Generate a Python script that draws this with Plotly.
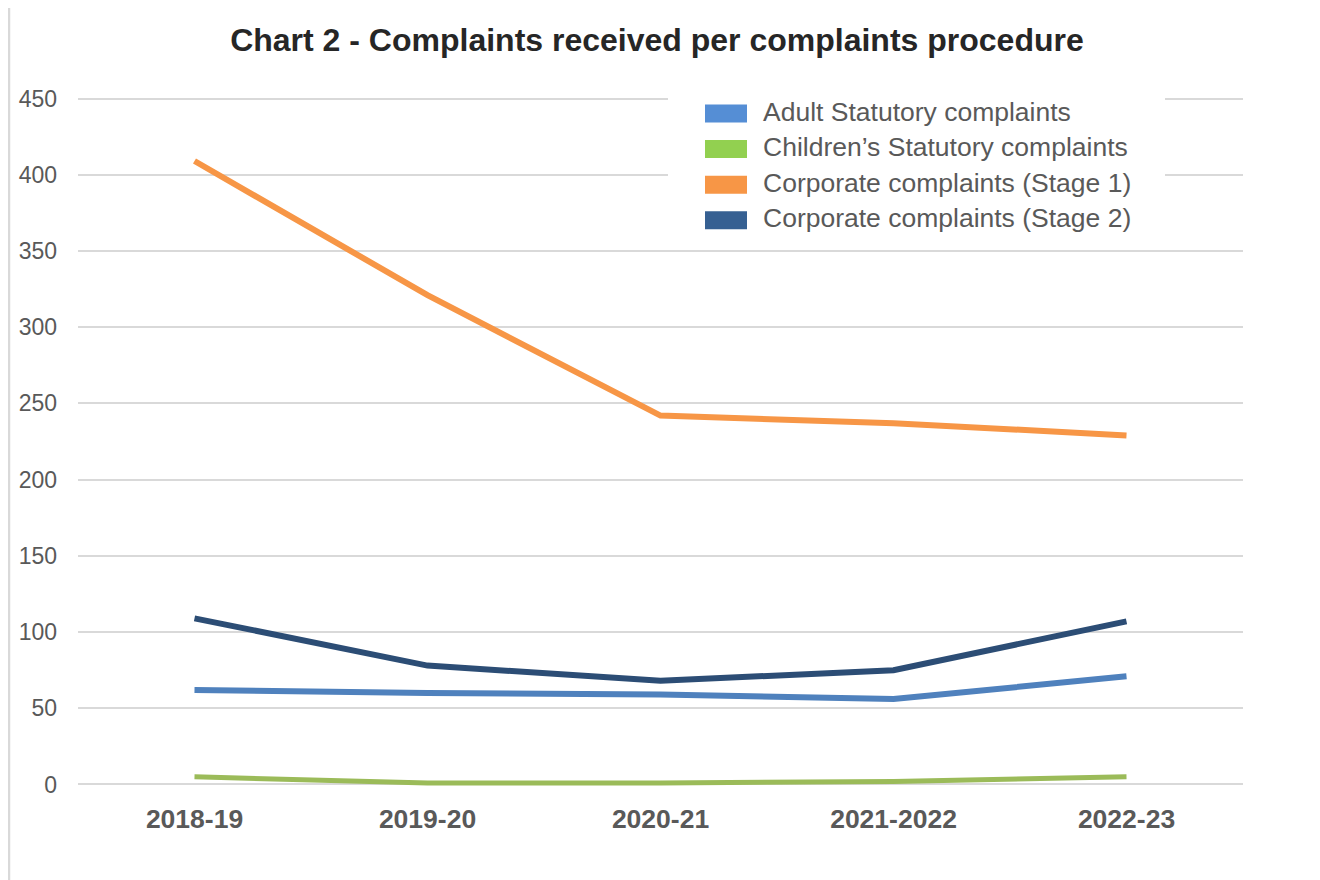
import plotly.graph_objects as go

years = ["2018-19", "2019-20", "2020-21", "2021-2022", "2022-23"]
series_names = [
    "Adult Statutory complaints",
    "Children\u2019s Statutory complaints",
    "Corporate complaints (Stage 1)",
    "Corporate complaints (Stage 2)",
]
adult = [62, 60, 59, 56, 71]
children = [5, 1, 1, 2, 5]
corp1 = [409, 321, 242, 237, 229]
corp2 = [109, 78, 68, 75, 107]
y_ticks = [0, 50, 100, 150, 200, 250, 300, 350, 400, 450]

line_colors = ["#4F81BD", "#9BBB59", "#F79646", "#2C4D75"]
swatch_colors = ["#558ED5", "#92D050", "#F79646", "#366092"]
widths = [6, 5, 6, 6]

OFF = 8  # page body margin
PAD = 1.0  # axis padding (data units) so the edge gridlines are drawn
W, H = 1320 - OFF, 880 - OFF
pw = 1165
ph = 685 * (450 + 2 * PAD) / 450
ml = 78 - OFF
mt = 99 - OFF - 685 * PAD / 450
mr, mb = W - ml - pw, H - mt - ph

fig = go.Figure()
for name, vals, col, w in zip(series_names, [adult, children, corp1, corp2], line_colors, widths):
    fig.add_trace(go.Scatter(x=years, y=vals, mode="lines", name=name,
                             line=dict(color=col, width=w), showlegend=False))

def px_x(px):
    return (px - OFF - ml) / pw

def px_y(py):
    return 1 - (py - OFF - mt) / ph

shapes = []
annotations = []
# legend background
shapes.append(dict(type="rect", xref="paper", yref="paper",
                   x0=px_x(668), x1=px_x(1165), y0=px_y(246), y1=px_y(93),
                   fillcolor="white", line=dict(width=0), layer="above"))
row_y = [113, 148.5, 184, 219.5]
for name, col, ry in zip(series_names, swatch_colors, row_y):
    shapes.append(dict(type="rect", xref="paper", yref="paper",
                       x0=px_x(705), x1=px_x(747), y0=px_y(ry + 10), y1=px_y(ry - 8),
                       fillcolor=col, line=dict(width=0), layer="above"))
    annotations.append(dict(text=name, xref="paper", yref="paper",
                            x=px_x(761), y=px_y(ry - 1), xanchor="left", yanchor="middle",
                            showarrow=False,
                            font=dict(family="Liberation Sans, Arial", size=26.5, color="#595959")))
# left border
shapes.append(dict(type="line", xref="paper", yref="paper",
                   x0=px_x(9), x1=px_x(9), y0=px_y(880), y1=px_y(0),
                   line=dict(color="#D9D9D9", width=2.5)))

fig.update_layout(
    width=W, height=H,
    margin=dict(l=ml, r=mr, t=mt, b=mb),
    paper_bgcolor="white", plot_bgcolor="white",
    title=dict(text="<b>Chart 2 - Complaints received per complaints procedure</b>",
               x=(660 - OFF) / W, xanchor="center", xref="paper",
               y=1 - (40 - OFF) / H, yanchor="middle",
               font=dict(family="Liberation Sans, Arial", size=32, color="#262626")),
    shapes=shapes, annotations=annotations,
    font=dict(family="Liberation Sans, Arial", color="#595959"),
)
fig.update_xaxes(type="category", range=[-0.5, 4.5], showgrid=False, zeroline=False,
                 showline=False, ticks="", ticklabelstandoff=14,
                 tickfont=dict(family="Liberation Sans, Arial", size=26.5, color="#595959", weight="bold"))
fig.update_yaxes(range=[-PAD, 450 + PAD], tickvals=y_ticks, showgrid=True, gridcolor="#D9D9D9",
                 gridwidth=1.5, zeroline=False, showline=False, ticks="",
                 ticklabelstandoff=20,
                 tickfont=dict(family="Liberation Sans, Arial", size=23, color="#595959"))

fig.write_html("out.html")
